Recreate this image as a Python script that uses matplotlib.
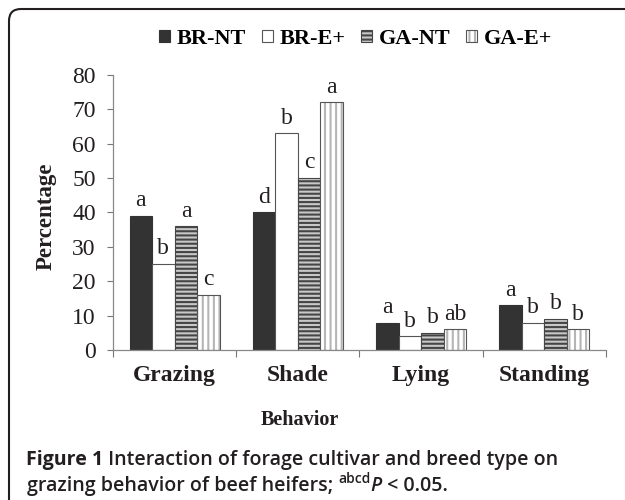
import matplotlib
matplotlib.use('Agg')
import matplotlib.pyplot as plt
import numpy as np
from matplotlib.patches import FancyBboxPatch, Patch

behaviors = ['Grazing', 'Shade', 'Lying', 'Standing']
groups = ['BR-NT', 'BR-E+', 'GA-NT', 'GA-E+']
br_nt = [39, 40, 8, 13]
br_ep = [25, 63, 4, 8]
ga_nt = [36, 50, 5, 9]
ga_ep = [16, 72, 6, 6]
letters_br_nt = ['a', 'd', 'a', 'a']
letters_br_ep = ['b', 'b', 'b', 'b']
letters_ga_nt = ['a', 'c', 'b', 'b']
letters_ga_ep = ['c', 'a', 'ab', 'b']
yticks = [0, 10, 20, 30, 40, 50, 60, 70, 80]

ink = '#231f20'
plt.rcParams['font.family'] = 'Liberation Serif'
plt.rcParams['hatch.linewidth'] = 1.5

fig = plt.figure(figsize=(6.25, 5), dpi=100)
ax = fig.add_axes([0.1808, 0.30, 0.7888, 0.55])

x = np.arange(len(behaviors))
w = 0.183
series = [br_nt, br_ep, ga_nt, ga_ep]
letters = [letters_br_nt, letters_br_ep, letters_ga_nt, letters_ga_ep]
styles = [
    dict(color='#333333', edgecolor='#333333', linewidth=0.8),
    dict(color='white', edgecolor='#555555', linewidth=0.8),
    dict(color='#c8c8c8', edgecolor='#454545', linewidth=0.8, hatch='----'),
    dict(color='white', edgecolor='#b5b5b5', linewidth=0.0, hatch='|||'),
]

handles = []
for i, (vals, st) in enumerate(zip(series, styles)):
    pos = x + (i - 1.5) * w
    bars = ax.bar(pos, vals, w, label=groups[i], **st)
    if i == 3:
        ax.bar(pos, vals, w, fill=False, edgecolor='#555555', linewidth=0.8)
        bars = (bars, Patch(fill=False, edgecolor='#555555', linewidth=0.8))
    handles.append(bars)
    for p, v, t in zip(pos, vals, letters[i]):
        ax.annotate(t, (p, v), xytext=(0, 7), textcoords='offset points',
                    ha='center', va='baseline', fontsize=17, color=ink)

ax.set_xlim(-0.5, 3.5)
ax.set_ylim(0, 80)
ax.set_yticks(yticks)
ax.tick_params(axis='y', labelsize=17, length=4.5, width=0.8, color='#777777',
               pad=8, labelcolor=ink)
ax.set_xticks([-0.5, 0.5, 1.5, 2.5, 3.5])
ax.set_xticklabels([])
ax.set_xticks(x, minor=True)
ax.set_xticklabels(behaviors, minor=True, fontsize=17, fontweight='bold', color=ink)
ax.tick_params(axis='x', which='major', length=5, width=0.8, color='#777777')
ax.tick_params(axis='x', which='minor', length=0, pad=11)
for s in ['top', 'right']:
    ax.spines[s].set_visible(False)
for s in ['left', 'bottom']:
    ax.spines[s].set_color('#888888')
    ax.spines[s].set_linewidth(0.9)

fig.text(46 / 625, 1 - 216 / 500, 'Percentage', rotation=90, ha='center',
         va='center', fontsize=16.5, fontweight='bold', color=ink)
fig.text(300 / 625, 1 - 420 / 500, 'Behavior', ha='center', va='center',
         fontsize=14.5, fontweight='bold', color=ink)

fig.legend(handles, groups, loc='center', bbox_to_anchor=(0.569, 1 - 39 / 500),
           ncol=4, frameon=False, handlelength=0.5, handleheight=0.5,
           handletextpad=0.3, columnspacing=0.7,
           prop={'family': 'Liberation Serif', 'weight': 'bold', 'size': 16})

# border around figure with rounded corner
frame = FancyBboxPatch((0.09, -1.0), 10, 5.91, boxstyle='round,pad=0,rounding_size=0.12',
                       transform=fig.dpi_scale_trans, fill=False, linewidth=1.5,
                       edgecolor=ink, clip_on=False)
fig.add_artist(frame)

# caption, assembled from pieces
renderer = fig.canvas.get_renderer()
cap = dict(family='Open Sans', size=14.1, color=ink)


def put(xpx, ybase, s, **kw):
    t = fig.text(xpx / 625, 1 - ybase / 500, s, ha='left', va='baseline', **kw)
    bb = t.get_window_extent(renderer)
    return bb.x1


xe = put(26, 465, 'Figure 1', weight='bold', **cap)
put(xe, 465, ' Interaction of forage cultivar and breed type on', weight='semibold', **cap)
xe = put(27, 491, 'grazing behavior of beef heifers; ', weight='semibold', **cap)
xe = put(xe, 483, 'abcd', weight='semibold', family='Open Sans', size=10, color=ink)
xe = put(xe, 491, 'P', weight='semibold', style='italic', **cap)
put(xe, 491, ' < 0.05.', weight='semibold', **cap)

fig.savefig('out.png', dpi=100)
